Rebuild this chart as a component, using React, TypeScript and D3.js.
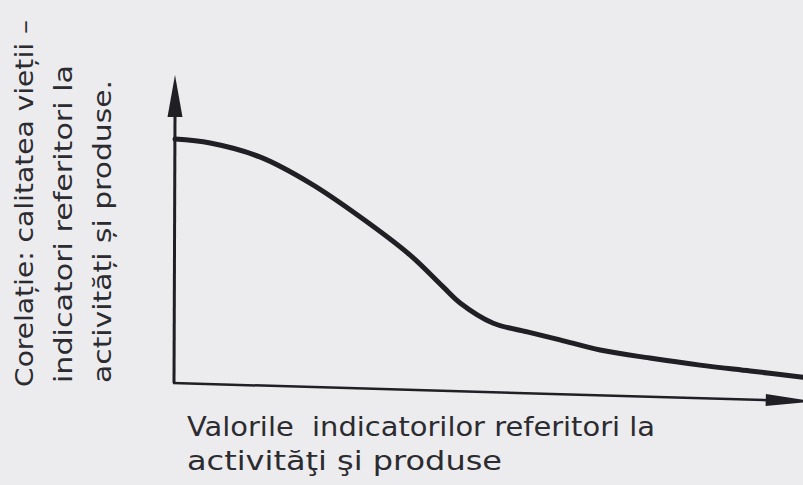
import React from "react";
import * as d3 from "d3";

// Curve (abstract units, 0..100 on both axes)
const X_VALUES = [0, 5.6, 13.5, 21.5, 29.5, 37.4, 42.7, 45.4, 50.6, 56.1, 61.3, 67.7, 75.6, 83.6, 91.6, 100];
const Y_VALUES = [79.2, 77.9, 73.4, 64.9, 53.9, 41.6, 31.2, 26.0, 19.5, 16.6, 14.0, 10.7, 8.1, 5.8, 3.9, 1.9];

const Y_LABEL_LINES = ["Corelație: calitatea vieții –", "indicatori referitori la", "activități și produse."];
const X_LABEL_LINES = ["Valorile  indicatorilor referitori la", "activităţi şi produse"];

const W = 803;
const H = 485;
const INK = "#1f1f24";
const TEXT = "#2b2b30";
const PAPER = "#ececef";
const FONT = "'DejaVu Sans', sans-serif";

export default function App() {
  const x = d3.scaleLinear().domain([0, 100]).range([175, 803]);
  const y = d3.scaleLinear().domain([0, 100]).range([383, 75]);
  const pts: [number, number][] = X_VALUES.map((v, i) => [v, Y_VALUES[i]]);
  const line = d3
    .line<[number, number]>()
    .x((d) => x(d[0]))
    .y((d) => y(d[1]))
    .curve(d3.curveCatmullRom.alpha(0.5));

  const x0 = x(0);
  const y0 = y(0);
  const yTop = y(100);
  const tilt = 1.65; // scan skew of horizontal axis, degrees

  const yLabelBaselines = [33, 72, 111];
  const yLabelLengths = [367, 318, 303];
  const yLabelStart = [387, 383, 383];
  const xLabelBaselines = [436, 470];
  const xLabelLengths = [468, 315];

  return (
    <svg
      width={W}
      height={H}
      style={{ position: "absolute", left: 0, top: 0, background: PAPER }}
    >
      <rect x={0} y={0} width={W} height={H} fill={PAPER} />
      {/* vertical axis */}
      <line x1={x0 - 1} y1={y0} x2={x0} y2={yTop + 40} stroke={INK} strokeWidth={3} />
      <path
        d={`M${x0},${yTop} L${x0 + 7.5},${yTop + 42} L${x0 - 7.5},${yTop + 42} Z`}
        fill={INK}
      />
      {/* horizontal axis (slightly skewed as in the scan) */}
      <g transform={`rotate(${tilt}, ${x0 - 2}, ${y0})`}>
        <line x1={x0 - 2} y1={y0} x2={770} y2={y0} stroke={INK} strokeWidth={2.5} />
        <path d={`M766,${y0 - 6} L815,${y0} L766,${y0 + 6} Z`} fill={INK} />
      </g>
      {/* curve */}
      <path
        d={line(pts) || ""}
        fill="none"
        stroke={INK}
        strokeWidth={5}
        strokeLinecap="round"
        strokeLinejoin="round"
      />
      {/* y label */}
      {Y_LABEL_LINES.map((t, i) => (
        <text
          key={t}
          transform={`translate(${yLabelBaselines[i]}, ${yLabelStart[i]}) rotate(-90)`}
          fontFamily={FONT}
          fontSize={24}
          fill={TEXT}
          textLength={yLabelLengths[i]}
          lengthAdjust="spacingAndGlyphs"
        >
          {t}
        </text>
      ))}
      {/* x label */}
      {X_LABEL_LINES.map((t, i) => (
        <text
          key={t}
          x={187}
          y={xLabelBaselines[i]}
          fontFamily={FONT}
          fontSize={26}
          fill={TEXT}
          textLength={xLabelLengths[i]}
          lengthAdjust="spacingAndGlyphs"
          style={{ whiteSpace: "pre" }}
        >
          {t}
        </text>
      ))}
    </svg>
  );
}
